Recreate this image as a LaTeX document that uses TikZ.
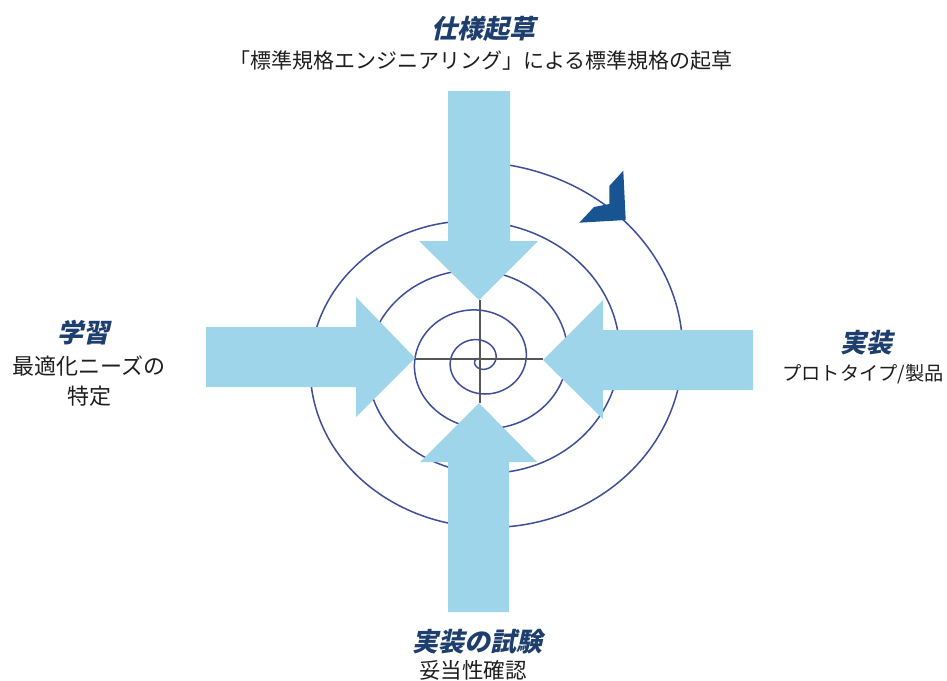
\documentclass[tikz,border=0pt]{standalone}
\usepackage{fontspec}
\setmainfont{Noto Sans CJK JP}
\newfontfamily\jptitle{Noto Sans CJK JP}[FakeSlant=0.22]
\definecolor{arrowblue}{RGB}{158,213,234}
\definecolor{spiralblue}{RGB}{62,78,152}
\definecolor{crossgray}{RGB}{85,85,90}
\definecolor{chevblue}{RGB}{24,84,146}
\definecolor{titlenavy}{RGB}{30,62,110}
\definecolor{bodytext}{RGB}{30,30,30}
\tikzset{
  bigarrow/.style={fill=arrowblue, draw=none},
  spiralline/.style={draw=spiralblue, line width=1.5pt},
  crossline/.style={draw=crossgray, line width=1.4pt},
  titletext/.style={font=\jptitle\bfseries\fontsize{26}{28}\selectfont, text=titlenavy, inner sep=0pt, anchor=center},
  bodytxt/.style={text=bodytext, inner sep=0pt, anchor=center, align=center},
}
\begin{document}
\begin{tikzpicture}[x=1pt,y=-1pt]
\useasboundingbox (0,0) rectangle (947,680);
% spiral
\draw[spiralline] plot[domain=0:5, samples=500, smooth]
  ({480 + 1.11*(15.1*\x+4.9*\x*\x)*cos(360*\x+90)}, {360 - (15.1*\x+4.9*\x*\x)*sin(360*\x+90)});
% arrows
\fill[bigarrow] (448,91) -- (510,91) -- (510,241) -- (538,241) -- (479,300) -- (419,241) -- (448,241) -- cycle;
\fill[bigarrow] (206,327) -- (356,327) -- (356,297) -- (415,358) -- (356,417) -- (356,387) -- (206,387) -- cycle;
\fill[bigarrow] (753,330) -- (603,330) -- (603,300) -- (543,360) -- (603,419) -- (603,390) -- (753,390) -- cycle;
\fill[bigarrow] (448,612) -- (509,612) -- (509,462) -- (537,462) -- (479,403) -- (420,462) -- (448,462) -- cycle;
% crosshair
\coordinate (cl) at (415,359);
\coordinate (cr) at (543,359);
\coordinate (ct) at (480,300);
\coordinate (cb) at (480,403);
\draw[crossline] (cl) -- (cr);
\draw[crossline] (ct) -- (cb);
% chevron arrowhead
\fill[chevblue] (623.3,170.7) -- (625.7,220) -- (579.3,222.7) -- (594,207) -- (609.3,204) -- (609.3,186) -- cycle;
% texts
\node[titletext] (t1) at (483,29) {仕様起草};
\node[bodytxt, font=\fontsize{21}{30}\selectfont] (s1) at (481,61) {「標準規格エンジニアリング」による標準規格の起草};
\node[titletext] (t2) at (83,333) {学習};
\node[bodytxt, font=\fontsize{22}{30}\selectfont] (s2) at (89,381) {最適化ニーズの\\特定};
\node[titletext] (t3) at (866,343) {実装};
\node[bodytxt, font=\fontsize{19.2}{30}\selectfont] (s3) at (863,374) {プロトタイプ/製品};
\node[titletext] (t4) at (477,642) {実装の試験};
\node[bodytxt, font=\fontsize{21.5}{30}\selectfont] (s4) at (473,670) {妥当性確認};
\end{tikzpicture}
\end{document}
